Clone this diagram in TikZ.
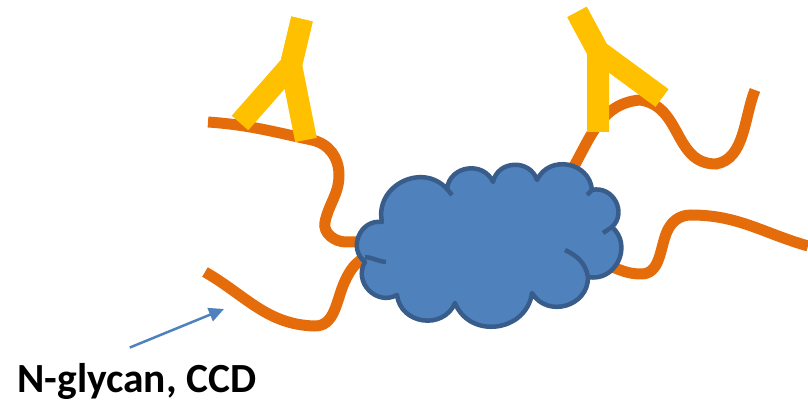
\documentclass[tikz,border=0pt]{standalone}
\usepackage{fontspec}
\setmainfont{Carlito}
\usetikzlibrary{arrows.meta}
\definecolor{StrandOrange}{RGB}{228,108,10}
\definecolor{ArmYellow}{RGB}{255,192,0}
\definecolor{CoreBlue}{RGB}{79,129,189}
\definecolor{CoreEdge}{RGB}{56,93,138}

\begin{document}
\begin{tikzpicture}[x=0.02cm, y=0.02cm,
  strand/.style={draw=StrandOrange, line width=0.22cm},
  antibody/.style={draw=ArmYellow, line width=0.44cm, line join=miter},
  core/.style={fill=CoreBlue, draw=CoreEdge, line width=0.09cm, line join=round, looseness=1.3},
  coreline/.style={draw=CoreEdge, line width=0.09cm},
  pointer/.style={draw=CoreBlue, line width=0.05cm, -{Triangle[length=0.3cm,width=0.28cm]}}]
\useasboundingbox (0,0) rectangle (808,-401);

% peptide strands
\draw[strand] (208,-122) to[out=-4,in=168] (312,-140) to[out=-12,in=90] (339,-175) to[out=-90,in=78] (325,-222) to[out=-102,in=180] (346,-242) -- (366,-242);
\draw[strand] (205,-272) to[out=-30,in=178] (314,-326) to[out=-2,in=-115] (345,-281) to[out=65,in=205] (368,-256);
\draw[strand] (562,-186) to[out=55,in=185] (640,-100) to[out=-8,in=180,looseness=1.1] (716,-164) to[out=10,in=248,looseness=0.9] (755,-90);
\draw[strand] (598,-262) to[out=-15,in=180] (641,-274) to[out=0,in=-110] (666,-234) to[out=70,in=180] (691,-215) to[out=0,in=164] (808,-246);

% antibodies
\draw[antibody] (240,-123) -- (291,-65) -- (302,-19);
\draw[antibody] (306,-140) -- (291,-65) -- (302,-19);
\draw[antibody] (598,-132) -- (598,-51) -- (577,-12);
\draw[antibody] (662,-98) -- (598,-51) -- (577,-12);

% protein core
\path[core] (382,-222) to[out=172,in=142] (365,-262) to[out=239,in=209] (397,-295)
  to[out=277,in=247] (455,-303) to[out=-68,in=262] (532,-293) to[out=-59,in=271] (588,-277)
  to[out=-11,in=319] (612,-227) to[out=43,in=13] (592,-190) to[out=95,in=65] (537,-180)
  to[out=108,in=78] (493,-182) to[out=114,in=84] (447,-189) to[out=132,in=102] (382,-222) -- cycle;
\draw[coreline] (365,-257) to[out=-5,in=175] (386,-262);
\draw[coreline] (588,-277) to[out=100,in=-25] (565,-250);
\draw[coreline] (612,-227) -- (603,-233);
\draw[coreline] (447,-189) -- (452,-195);
\draw[coreline] (592,-190) -- (587,-195);

\node[font=\bfseries\fontsize{23.6}{28}\selectfont, anchor=base west, inner sep=0pt] (ccd) at (17,-393) {N-glycan, CCD};
\coordinate (tip) at (224,-309);
\draw[pointer] ([shift={(-7,16)}]ccd.north) -- (tip);
\end{tikzpicture}
\end{document}
